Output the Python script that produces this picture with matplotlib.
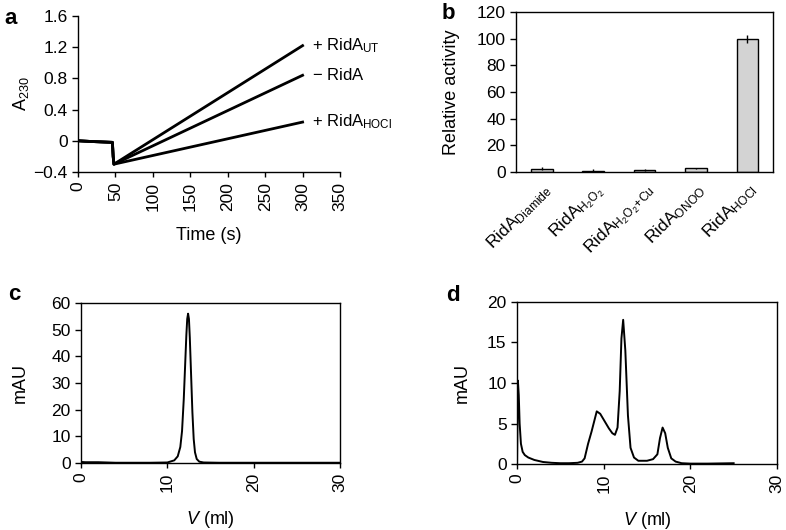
import matplotlib
matplotlib.use("Agg")
import matplotlib.pyplot as plt
import numpy as np

plt.rcParams['font.family'] = ['Liberation Sans', 'DejaVu Sans']
plt.rcParams['mathtext.fontset'] = 'custom'
plt.rcParams['mathtext.rm'] = 'Liberation Sans'
plt.rcParams['mathtext.it'] = 'Liberation Sans:italic'
plt.rcParams['mathtext.bf'] = 'Liberation Sans:bold'
plt.rcParams['font.size'] = 12.5

TICK = 12.5
LAB = 13

# ---- Panel a data ----
pre_t = [0, 20, 46, 47, 48]
pre_a = [0.0, -0.01, -0.02, -0.2, -0.3]
end_t = 300
series_names = [r'+ RidA$_{\mathrm{UT}}$', r'$-$ RidA', r'+ RidA$_{\mathrm{HOCl}}$']
series_end = [1.22, 0.84, 0.24]

# ---- Panel b data ----
b_labels = [r'RidA$_{\mathrm{Diamide}}$', r'RidA$_{\mathrm{H_2O_2}}$',
            r'RidA$_{\mathrm{H_2O_2\!+\!Cu}}$', r'RidA$_{\mathrm{ONOO}}$',
            r'RidA$_{\mathrm{HOCl}}$']
b_values = [2.5, 1.0, 1.2, 2.8, 100.0]
b_errors = [1.2, 1.0, 0.8, 0.4, 3.0]

# ---- Panel c data ----
c_x = [0, 0.5, 2, 4, 8, 10, 10.8, 11.2, 11.5, 11.7, 11.9, 12.05, 12.2, 12.3, 12.4,
       12.5, 12.6, 12.75, 12.9, 13.05, 13.2, 13.4, 13.7, 14.2, 16, 20, 25, 30]
c_y = [0.4, 0.3, 0.3, 0.1, 0.1, 0.2, 1, 2.5, 6, 12, 24, 36, 48, 54, 56,
       54, 47, 33, 19, 9, 4, 1.5, 0.5, 0.2, 0.1, 0.1, 0.1, 0.1]

# ---- Panel d data ----
d_x = [0, 0.1, 0.2, 0.3, 0.45, 0.65, 0.9, 1.3, 2, 3, 4, 5, 6, 7, 7.5, 7.8, 8.2, 8.6,
       9.2, 9.6, 10.1, 10.6, 11.0, 11.3, 11.6, 11.85, 12.05, 12.25, 12.5, 12.8, 13.1,
       13.5, 14, 15, 15.7, 16.2, 16.5, 16.8, 17.1, 17.4, 17.8, 18.3, 19, 20, 22, 25]
d_y = [0, 10.3, 8.5, 5, 2.5, 1.5, 1.1, 0.8, 0.5, 0.25, 0.15, 0.1, 0.1, 0.15, 0.3, 0.7,
       2.5, 4, 6.5, 6.2, 5.3, 4.4, 3.8, 3.6, 4.5, 9, 15.5, 17.8, 14, 6, 2,
       0.8, 0.4, 0.4, 0.6, 1.2, 3.2, 4.5, 3.8, 2, 0.7, 0.3, 0.1, 0.05, 0.05, 0.1]

fig = plt.figure(figsize=(7.86, 5.30), dpi=100)

# Panel a
axa = fig.add_axes([0.0992, 0.6755, 0.3334, 0.2943])
for name, yend in zip(series_names, series_end):
    axa.plot(pre_t + [end_t], pre_a + [yend], color='black', lw=2.0, solid_joinstyle='round')
    axa.text(312, yend, name, va='center', ha='left', fontsize=12, clip_on=False)
axa.set_xlim(0, 350)
axa.set_ylim(-0.4, 1.6)
axa.set_xticks(np.arange(0, 351, 50))
axa.set_yticks([-0.4, 0, 0.4, 0.8, 1.2, 1.6])
axa.set_yticklabels(['\u22120.4', '0', '0.4', '0.8', '1.2', '1.6'])
axa.tick_params(axis='x', rotation=90)
axa.spines['top'].set_visible(False)
axa.spines['right'].set_visible(False)
axa.set_xlabel('Time (s)', fontsize=LAB, labelpad=12)
axa.set_ylabel(r'A$_{\mathrm{230}}$', fontsize=LAB, labelpad=2)
fig.text(0.006, 0.985, 'a', fontsize=16, fontweight='bold', va='top')

# Panel b
axb = fig.add_axes([0.6565, 0.6755, 0.327, 0.3019])
xb = np.arange(len(b_values))
axb.bar(xb, b_values, width=0.42, color='#d3d3d3', edgecolor='black', lw=1.0,
        yerr=b_errors, ecolor='black', error_kw=dict(lw=1.0, capsize=0))
axb.set_xlim(-0.5, 4.5)
axb.set_ylim(0, 120)
axb.set_yticks(np.arange(0, 121, 20))
axb.set_xticks(xb)
axb.set_xticklabels(b_labels, rotation=45, ha='right', rotation_mode='anchor', fontsize=TICK)
axb.set_ylabel('Relative activity', fontsize=LAB, labelpad=12)
fig.text(0.562, 0.995, 'b', fontsize=16, fontweight='bold', va='top')

# Panel c
axc = fig.add_axes([0.1031, 0.1264, 0.3295, 0.3019])
axc.plot(c_x, c_y, color='black', lw=1.4)
axc.set_xlim(0, 30)
axc.set_ylim(0, 60)
axc.set_xticks([0, 10, 20, 30])
axc.set_yticks(np.arange(0, 61, 10))
axc.tick_params(axis='x', rotation=90)
axc.set_xlabel(r'$V$ (ml)', fontsize=LAB, labelpad=12)
axc.set_ylabel('mAU', fontsize=LAB, labelpad=16)
fig.text(0.01, 0.465, 'c', fontsize=16, fontweight='bold', va='top')

# Panel d
axd = fig.add_axes([0.6578, 0.1245, 0.3307, 0.3057])
axd.plot(d_x, d_y, color='black', lw=1.4)
axd.set_xlim(0, 30)
axd.set_ylim(0, 20)
axd.set_xticks([0, 10, 20, 30])
axd.set_yticks([0, 5, 10, 15, 20])
axd.tick_params(axis='x', rotation=90)
axd.set_xlabel(r'$V$ (ml)', fontsize=LAB, labelpad=12)
axd.set_ylabel('mAU', fontsize=LAB, labelpad=12)
fig.text(0.568, 0.462, 'd', fontsize=16, fontweight='bold', va='top')

for ax in (axa, axb, axc, axd):
    for s in ax.spines.values():
        s.set_linewidth(1.0)
    ax.tick_params(direction='out', width=1.0, labelsize=TICK)
    ax.tick_params(axis='y', length=4)
axb.tick_params(axis='x', length=0, pad=6)

fig.savefig('out.png', dpi=100)
